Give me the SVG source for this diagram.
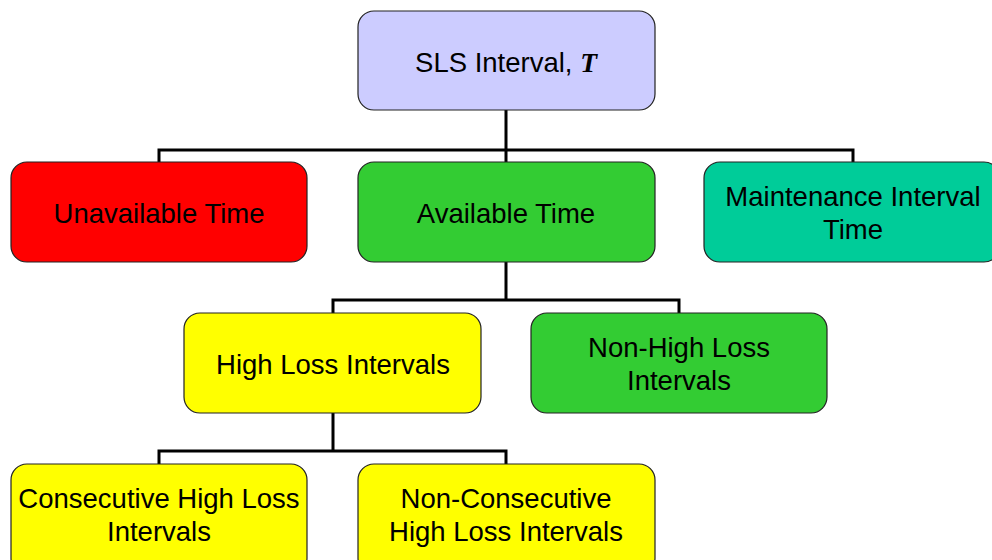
<svg xmlns="http://www.w3.org/2000/svg" width="992" height="560" viewBox="0 0 992 560">
<style>
.box{stroke:#222;stroke-width:1.2}
.t{font-family:"Liberation Sans",Arial,sans-serif;font-size:27.5px;fill:#000;text-anchor:middle}
.c{fill:none;stroke:#000;stroke-width:3}
</style>
<rect width="992" height="560" fill="#fff"/>
<g id="connectors">
<path class="c" d="M506 110V150M159 162V150H853V162M506 150V162"/>
<path class="c" d="M506 262V300M333 313V300H679V313"/>
<path class="c" d="M333 413V451M159 464V451H506V464"/>
</g>
<g id="sls"><rect class="box" x="358" y="11" width="297" height="99" rx="16" fill="#CCCCFF"/>
<text class="t" x="506" y="72">SLS Interval, <tspan font-family="'Liberation Serif',serif" font-weight="bold" font-style="italic">T</tspan></text></g>
<g id="unavailable"><rect class="box" x="11" y="162" width="296" height="100" rx="16" fill="#FF0000"/>
<text class="t" x="159" y="223">Unavailable Time</text></g>
<g id="available"><rect class="box" x="358" y="162" width="297" height="100" rx="16" fill="#33CC33"/>
<text class="t" x="506" y="223">Available Time</text></g>
<g id="maintenance"><rect class="box" x="704" y="162" width="296" height="100" rx="16" fill="#00CC99"/>
<text class="t" x="853" y="206">Maintenance Interval</text><text class="t" x="853" y="239">Time</text></g>
<g id="highloss"><rect class="box" x="184" y="313" width="297" height="100" rx="16" fill="#FFFF00"/>
<text class="t" x="333" y="374">High Loss Intervals</text></g>
<g id="nonhighloss"><rect class="box" x="531" y="313" width="296" height="100" rx="16" fill="#33CC33"/>
<text class="t" x="679" y="357">Non-High Loss</text><text class="t" x="679" y="390">Intervals</text></g>
<g id="consecutive"><rect class="box" x="11" y="464" width="296" height="110" rx="16" fill="#FFFF00"/>
<text class="t" x="159" y="508">Consecutive High Loss</text><text class="t" x="159" y="541">Intervals</text></g>
<g id="nonconsecutive"><rect class="box" x="358" y="464" width="297" height="110" rx="16" fill="#FFFF00"/>
<text class="t" x="506" y="508">Non-Consecutive</text><text class="t" x="506" y="541">High Loss Intervals</text></g>
</svg>
